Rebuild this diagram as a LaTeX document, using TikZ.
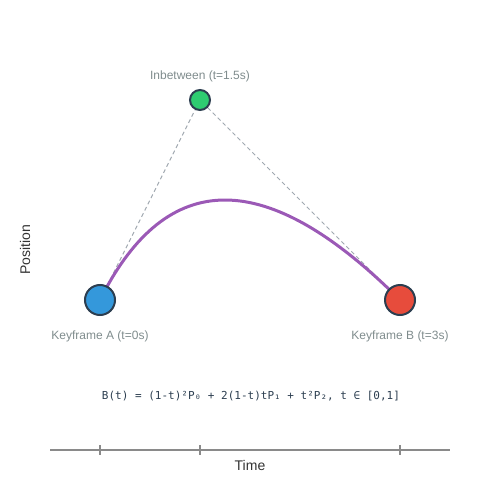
\documentclass[tikz,border=0pt]{standalone}
\usepackage{fontspec}
\setmainfont{Liberation Sans}
\newfontfamily\formulafont{DejaVu Sans Mono}
\usetikzlibrary{calc, backgrounds}
\definecolor{keyblue}{HTML}{3498DB}
\definecolor{keyred}{HTML}{E74C3C}
\definecolor{tweengreen}{HTML}{2ECC71}
\definecolor{rimdark}{HTML}{2C3E50}
\definecolor{curvepurple}{HTML}{9B59B6}
\definecolor{guidegray}{HTML}{A0A8B0}
\definecolor{labelgray}{HTML}{7F8C8D}
\definecolor{axisgray}{HTML}{8A8A8A}
\tikzset{
  keyframe/.style={circle, draw=rimdark, line width=2pt, minimum size=30pt, inner sep=0pt},
  tween/.style={circle, draw=rimdark, line width=2pt, fill=tweengreen, minimum size=20pt, inner sep=0pt},
  keylabel/.style={text=labelgray, font=\fontsize{12}{14}\selectfont},
  guide/.style={guidegray, line width=1pt, dash pattern=on 4pt off 3pt},
  timetick/.style={axisgray, line width=1.5pt}
}

\begin{document}
\begin{tikzpicture}[x=1pt, y=-1pt]
  \useasboundingbox (0,0) rectangle (500,500);

  % Keyframes and the inbetween
  \node[keyframe, fill=keyblue] (keyA) at (100,300) {};
  \node[keyframe, fill=keyred] (keyB) at (400,300) {};
  \node[tween] (mid) at (200,100) {};

  \node[keylabel] (labA) at (100,336) {Keyframe A (t=0s)};
  \node[keylabel] (labB) at (400,336) {Keyframe B (t=3s)};
  \node[keylabel] (labMid) at (200,76) {Inbetween (t=1.5s)};

  \begin{pgfonlayer}{background}
    % Guide lines to the control point
    \draw[guide] (keyA) -- (mid);
    \draw[guide] (mid) -- (keyB);
    % Interpolated path
    \draw[curvepurple, line width=3pt]
      (keyA.center) .. controls ($(keyA.center)!2/3!(mid.center)$)
      and ($(keyB.center)!2/3!(mid.center)$) .. (keyB.center);
  \end{pgfonlayer}

  % Axis label
  \node[rotate=90, text=black!80, font=\fontsize{14}{16}\selectfont] (pos) at (25,250) {Position};

  % Formula
  \node[text=rimdark, font=\formulafont\fontsize{11}{13}\selectfont] (formula) at (251,396)
    {B(t) = (1-t)²P₀ + 2(1-t)tP₁ + t²P₂, t ∈ [0,1]};

  % Time axis
  \coordinate (tl) at (50,450);
  \coordinate (tr) at (450,450);
  \draw[axisgray, line width=2pt] (tl) -- (tr);
  \foreach \tx in {100,200,400}
    \draw[timetick] (\tx,445) -- (\tx,455);
  \node[text=black!80, font=\fontsize{14}{16}\selectfont] (timelab) at (250,465) {Time};
\end{tikzpicture}
\end{document}
